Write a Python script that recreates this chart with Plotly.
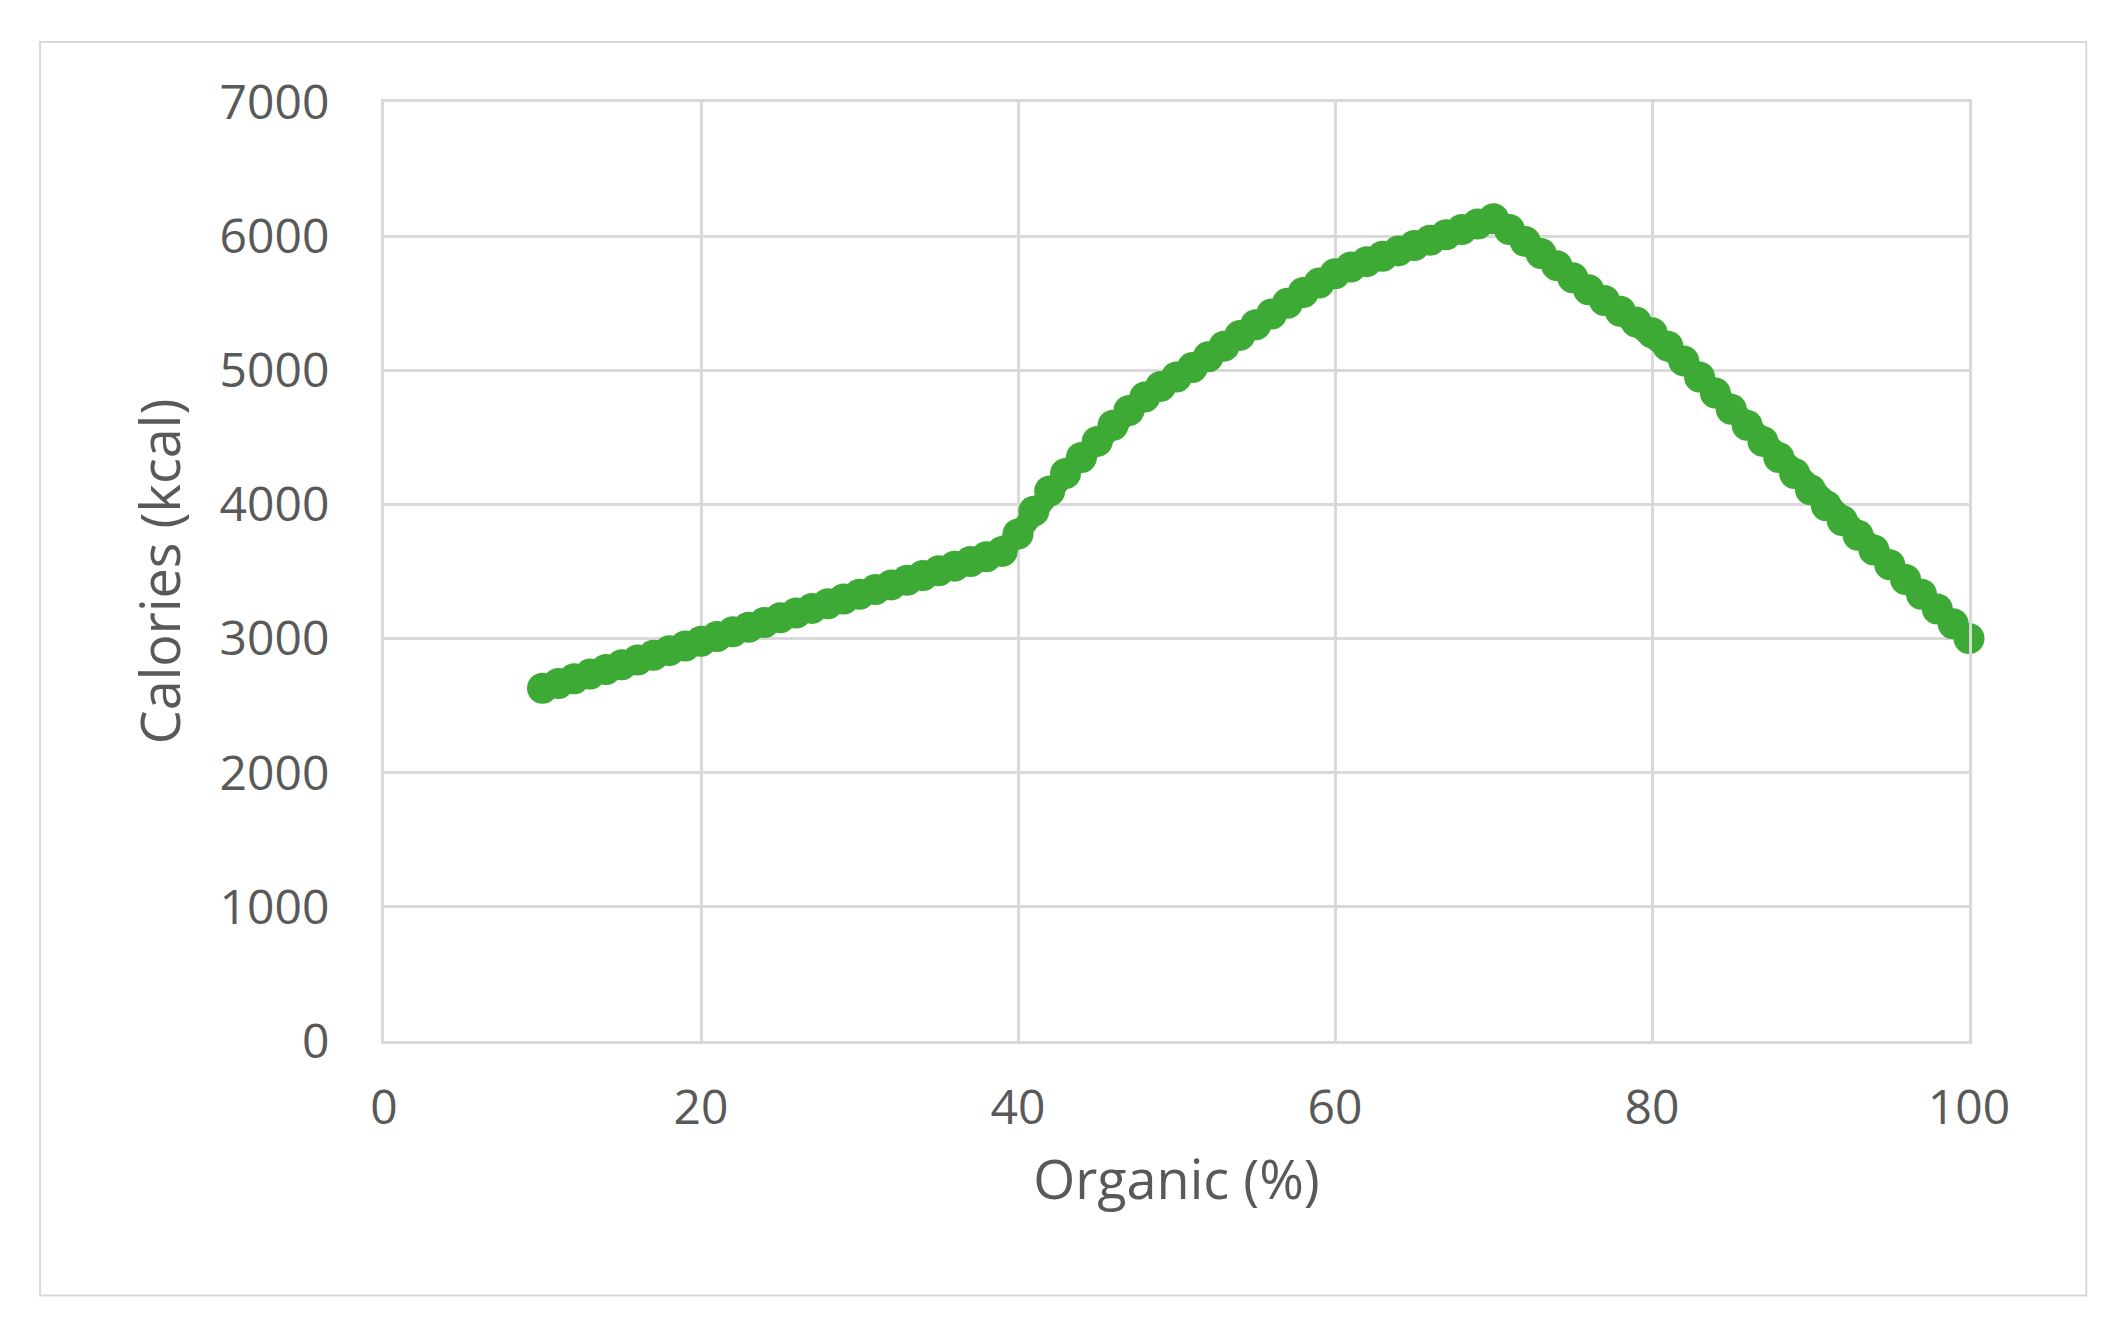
import plotly.graph_objects as go

organic = list(range(10, 101))
calories = [2630,2665,2700,2735,2770,2805,2840,2875,2910,2945,
            2980,3015,3050,3085,3120,3155,3190,3225,3260,3295,
            3330,3365,3400,3435,3470,3505,3540,3575,3610,3650,
            3780,3950,4100,4230,4350,4470,4590,4700,4800,4880,
            4950,5020,5100,5180,5260,5340,5420,5500,5580,5650,
            5720,5770,5810,5850,5890,5930,5970,6010,6050,6090,
            6130,6050,5960,5870,5780,5690,5600,5520,5440,5360,
            5280,5180,5070,4950,4830,4710,4590,4470,4350,4230,
            4110,3990,3880,3770,3660,3550,3440,3330,3220,3110,3000]

green = "#3DAA35"
grey = "#595959"
fig = go.Figure(go.Scatter(x=organic, y=calories, mode="lines+markers",
                           line=dict(color=green, width=22),
                           marker=dict(color=green, size=31),
                           cliponaxis=False))
fig.update_layout(
    width=2109, height=1325, paper_bgcolor="white", plot_bgcolor="white",
    margin=dict(l=376, r=148, t=94, b=292), showlegend=False,
    font=dict(family="Open Sans", color=grey, size=48),
    xaxis=dict(range=[0, 100], dtick=20, showgrid=True, gridcolor="#D9D9D9", gridwidth=3,
               zeroline=False, showline=True, linecolor="#D9D9D9", linewidth=3, mirror=True,
               ticks="outside", ticklen=22, tickcolor="white",
               title=dict(text="Organic (%)", font=dict(size=54), standoff=25)),
    yaxis=dict(range=[0, 7000], dtick=1000, showgrid=True, gridcolor="#D9D9D9", gridwidth=3,
               zeroline=False, showline=True, linecolor="#D9D9D9", linewidth=3, mirror=True,
               ticks="outside", ticklen=42, tickcolor="white",
               title=dict(text="Calories (kcal)", font=dict(size=54), standoff=22)),
    shapes=[dict(type="rect", xref="paper", yref="paper", x0=-0.217, x1=1.074,
                 y0=-0.271, y1=1.064, line=dict(color="#D9D9D9", width=2), layer="below")],
)
fig.write_html("out.html")
